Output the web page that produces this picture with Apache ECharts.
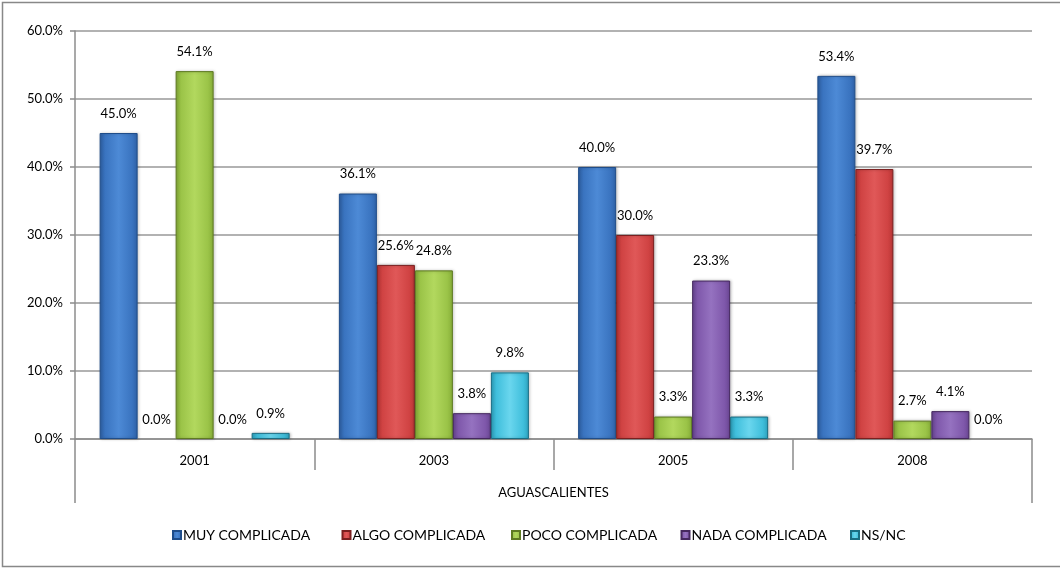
<!DOCTYPE html>
<html>
<head>
<meta charset="utf-8">
<script src="https://cdn.jsdelivr.net/npm/echarts@6/dist/echarts.min.js"></script>
<style>
html,body{margin:0;padding:0;background:#fff;}
#chart{width:1060px;height:568px;}
</style>
</head>
<body>
<div id="chart"></div>
<script>
var categories = ['2001', '2003', '2005', '2008'];
var groupLabel = ['AGUASCALIENTES'];
var seriesNames = ['MUY COMPLICADA', 'ALGO COMPLICADA', 'POCO COMPLICADA', 'NADA COMPLICADA', 'NS/NC'];
var muyComplicada = [45.0, 36.1, 40.0, 53.4];
var algoComplicada = [0.0, 25.6, 30.0, 39.7];
var pocoComplicada = [54.1, 24.8, 3.3, 2.7];
var nadaComplicada = [0.0, 3.8, 23.3, 4.1];
var nsnc = [0.9, 9.8, 3.3, 0.0];
var yTicks = [0, 10, 20, 30, 40, 50, 60];

var seriesData = [muyComplicada, algoComplicada, pocoComplicada, nadaComplicada, nsnc];
var palette = [
  ['#4d8ad6', '#3a74c0', '#2f62a8', '#1f4d8a'],
  ['#e05858', '#d04343', '#b83535', '#7a1f1f'],
  ['#b2d85e', '#9bc448', '#86ad38', '#5e7a22'],
  ['#9572c0', '#7f58ab', '#6a4694', '#45285f'],
  ['#6ad6ee', '#40bfdc', '#2ea4c0', '#1a6e84']
];
var FONT = 'Lato, "Open Sans", sans-serif';

var series = seriesNames.map(function (name, i) {
  var c = palette[i];
  return {
    name: name,
    type: 'bar',
    data: seriesData[i].map(function (v) {
      return v === 0
        ? { value: v, itemStyle: { color: 'rgba(0,0,0,0)', borderWidth: 0, shadowBlur: 0, shadowColor: 'rgba(0,0,0,0)' } }
        : v;
    }),
    barWidth: 38,
    barGap: '0%',
    itemStyle: {
      color: new echarts.graphic.LinearGradient(0, 0, 1, 0, [
        { offset: 0, color: c[2] },
        { offset: 0.15, color: c[1] },
        { offset: 0.5, color: c[0] },
        { offset: 0.85, color: c[1] },
        { offset: 1, color: c[2] }
      ]),
      borderColor: c[3],
      borderWidth: 1,
      shadowColor: 'rgba(0,0,0,0.25)',
      shadowBlur: 3,
      shadowOffsetX: 1,
      shadowOffsetY: 0
    },
    label: {
      show: true,
      position: 'top',
      distance: 13,
      color: '#000',
      fontFamily: FONT,
      fontSize: 13,
      formatter: function (p) { return p.value.toFixed(1) + '%'; }
    }
  };
});

var legends = seriesNames.map(function (name, i) {
  return {
    bottom: 26,
    left: 172 + i * 169.5,
    padding: 0,
    itemWidth: 8,
    itemHeight: 8,
    icon: 'rect',
    data: [name],
    textStyle: { fontFamily: FONT, fontSize: 14, color: '#000', padding: [0, 0, 0, -3] }
  };
});

var chart = echarts.init(document.getElementById('chart'));
chart.setOption({
  animation: false,
  backgroundColor: '#fff',
  textStyle: { fontFamily: FONT },
  graphic: [{
    type: 'rect',
    shape: { x: 2.5, y: 2.5, width: 1070, height: 564 },
    style: { fill: 'none', stroke: '#888', lineWidth: 1.5 },
    silent: true,
    z: -1
  }],
  grid: { left: 75, right: 28, top: 31, bottom: 129, containLabel: false },
  legend: legends,
  xAxis: [{
    type: 'category',
    data: categories,
    position: 'bottom',
    axisLine: { show: true, lineStyle: { color: '#8c8c8c', width: 1.5 } },
    axisTick: { show: true, length: 31, lineStyle: { color: '#8c8c8c', width: 1.5 } },
    axisLabel: { color: '#000', fontFamily: FONT, fontSize: 13, margin: 15 },
    splitLine: { show: false }
  }, {
    type: 'category',
    data: groupLabel,
    position: 'bottom',
    axisLine: { show: false },
    axisTick: { show: true, length: 64, lineStyle: { color: '#8c8c8c', width: 1.5 } },
    axisLabel: { color: '#000', fontFamily: FONT, fontSize: 13, margin: 47 },
    splitLine: { show: false }
  }],
  yAxis: {
    type: 'value',
    min: yTicks[0],
    max: yTicks[yTicks.length - 1],
    interval: 10,
    axisLine: { show: true, lineStyle: { color: '#8c8c8c', width: 1.5 } },
    axisTick: { show: true, length: 5, lineStyle: { color: '#8c8c8c', width: 1.5 } },
    axisLabel: {
      color: '#000', fontFamily: FONT, fontSize: 13, margin: 12,
      formatter: function (v) { return v.toFixed(1) + '%'; }
    },
    splitLine: { show: true, lineStyle: { color: '#999', width: 1.5 } }
  },
  series: series
});
</script>
</body>
</html>
